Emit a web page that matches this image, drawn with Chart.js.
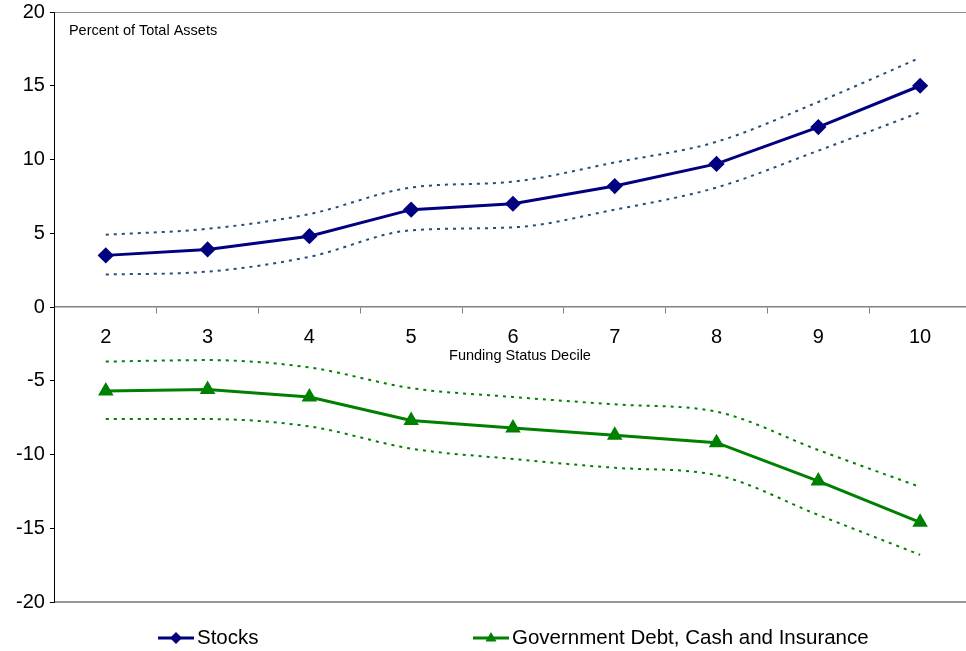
<!DOCTYPE html>
<html>
<head>
<meta charset="utf-8">
<script src="https://cdn.jsdelivr.net/npm/chart.js@4.4.1/dist/chart.umd.min.js"></script>
<style>
  html, body { margin: 0; padding: 0; background: #fff; overflow: hidden; }
  #wrap { position: relative; width: 980px; height: 651px; }
</style>
</head>
<body>
<div id="wrap"><canvas id="chart"></canvas></div>
<script>
// data
const deciles = ["2", "3", "4", "5", "6", "7", "8", "9", "10"];
const yTicks = [-20, -15, -10, -5, 0, 5, 10, 15, 20];
const stocks = [3.5, 3.9, 4.8, 6.6, 7.0, 8.2, 9.7, 12.2, 15.0];
const stocksUpper = [4.9, 5.3, 6.3, 8.1, 8.5, 9.8, 11.2, 13.9, 16.9];
const stocksLower = [2.2, 2.4, 3.4, 5.2, 5.4, 6.6, 8.1, 10.6, 13.2];
const govDebt = [-5.7, -5.6, -6.1, -7.7, -8.2, -8.7, -9.2, -11.8, -14.6];
const govUpper = [-3.7, -3.6, -4.1, -5.5, -6.1, -6.6, -7.1, -9.7, -12.2];
const govLower = [-7.6, -7.6, -8.1, -9.6, -10.3, -10.9, -11.4, -14.1, -16.8];

const FONT = '"Liberation Sans", Arial, sans-serif';
const NAVY = "#000080";
const GREEN = "#008000";
const BAND_BLUE = "#264d78";

function band(data, color) {
    return {
        data: data,
        borderColor: color,
        borderWidth: 2,
        borderDash: [3, 5],
        pointRadius: 0,
        cubicInterpolationMode: "monotone",
        fill: false
    };
}

// Plot frame, axis captions and the legend
const decorations = {
    id: "decorations",
    beforeDatasetsDraw(chart) {
        const { ctx, chartArea } = chart;
        ctx.save();
        ctx.strokeStyle = "#8c8c8c";
        ctx.lineWidth = 1;
        ctx.beginPath();
        ctx.moveTo(chartArea.left, chartArea.top + 0.5);
        ctx.lineTo(chartArea.right, chartArea.top + 0.5);
        ctx.stroke();
        ctx.strokeStyle = "#999";
        ctx.lineWidth = 2;
        ctx.beginPath();
        ctx.moveTo(chartArea.left, chartArea.bottom);
        ctx.lineTo(chartArea.right, chartArea.bottom);
        ctx.stroke();
        ctx.restore();
    },
    afterDraw(chart) {
        const { ctx, chartArea } = chart;
        ctx.save();
        ctx.fillStyle = "#000";
        ctx.font = "14.5px " + FONT;
        ctx.textBaseline = "middle";
        ctx.textAlign = "left";
        ctx.fillText("Percent of Total Assets", chartArea.left + 14, chartArea.top + 19);
        ctx.textAlign = "center";
        const y0 = chart.scales.y.getPixelForValue(0);
        ctx.fillText("Funding Status Decile", 520, y0 + 49);

        // legend
        const items = [
            { text: "Stocks", color: NAVY, marker: "diamond", x: 158 },
            { text: "Government Debt, Cash and Insurance", color: GREEN, marker: "triangle", x: 473 }
        ];
        const ly = 638;
        items.forEach(function (it) {
            ctx.strokeStyle = it.color;
            ctx.fillStyle = it.color;
            ctx.lineWidth = 3;
            ctx.beginPath();
            ctx.moveTo(it.x, ly);
            ctx.lineTo(it.x + 36, ly);
            ctx.stroke();
            const cx = it.x + 18;
            ctx.beginPath();
            if (it.marker === "diamond") {
                ctx.moveTo(cx, ly - 6);
                ctx.lineTo(cx + 6, ly);
                ctx.lineTo(cx, ly + 6);
                ctx.lineTo(cx - 6, ly);
            } else {
                ctx.moveTo(cx, ly - 6);
                ctx.lineTo(cx + 5.5, ly + 3.5);
                ctx.lineTo(cx - 5.5, ly + 3.5);
            }
            ctx.closePath();
            ctx.fill();
            ctx.fillStyle = "#000";
            ctx.font = "20.5px " + FONT;
            ctx.textAlign = "left";
            ctx.fillText(it.text, it.x + 39, ly);
        });
        ctx.restore();
    }
};

const ctx = document.getElementById("chart").getContext("2d");
new Chart(ctx, {
    type: "line",
    data: {
        labels: deciles,
        datasets: [
            band(stocksUpper, BAND_BLUE),
            band(stocksLower, BAND_BLUE),
            band(govUpper, GREEN),
            band(govLower, GREEN),
            {
                label: "Stocks",
                data: stocks,
                borderColor: NAVY,
                backgroundColor: NAVY,
                borderWidth: 3,
                pointStyle: "rectRot",
                pointRadius: 6,
                pointBackgroundColor: NAVY,
                pointBorderColor: NAVY,
                tension: 0,
                fill: false
            },
            {
                label: "Government Debt, Cash and Insurance",
                data: govDebt,
                borderColor: GREEN,
                backgroundColor: GREEN,
                borderWidth: 3,
                pointStyle: "triangle",
                pointRadius: 6,
                pointBackgroundColor: GREEN,
                pointBorderColor: GREEN,
                tension: 0,
                fill: false
            }
        ]
    },
    options: {
        responsive: true,
        maintainAspectRatio: false,
        animation: false,
        layout: { padding: { left: 11, top: 12, right: 7, bottom: 49 } },
        plugins: {
            legend: { display: false },
            tooltip: { enabled: false }
        },
        scales: {
            x: {
                type: "category",
                position: { y: 0 },
                offset: true,
                grid: { offset: true, drawOnChartArea: false, drawTicks: true, tickLength: 6, color: "#808080" },
                border: { display: true, color: "#808080", width: 1.5 },
                ticks: { color: "#000", font: { size: 20, family: FONT }, padding: 12, maxRotation: 0, autoSkip: false }
            },
            y: {
                min: yTicks[0],
                max: yTicks[yTicks.length - 1],
                afterBuildTicks(axis) {
                    axis.ticks = yTicks.map(function (v) { return { value: v }; });
                },
                ticks: { color: "#000", font: { size: 20, family: FONT, lineHeight: 0.6 }, padding: 5 },
                grid: { drawOnChartArea: false, tickLength: 5, color: "#000" },
                border: { color: "#000", width: 1 }
            }
        }
    },
    plugins: [decorations]
});
</script>
</body>
</html>
